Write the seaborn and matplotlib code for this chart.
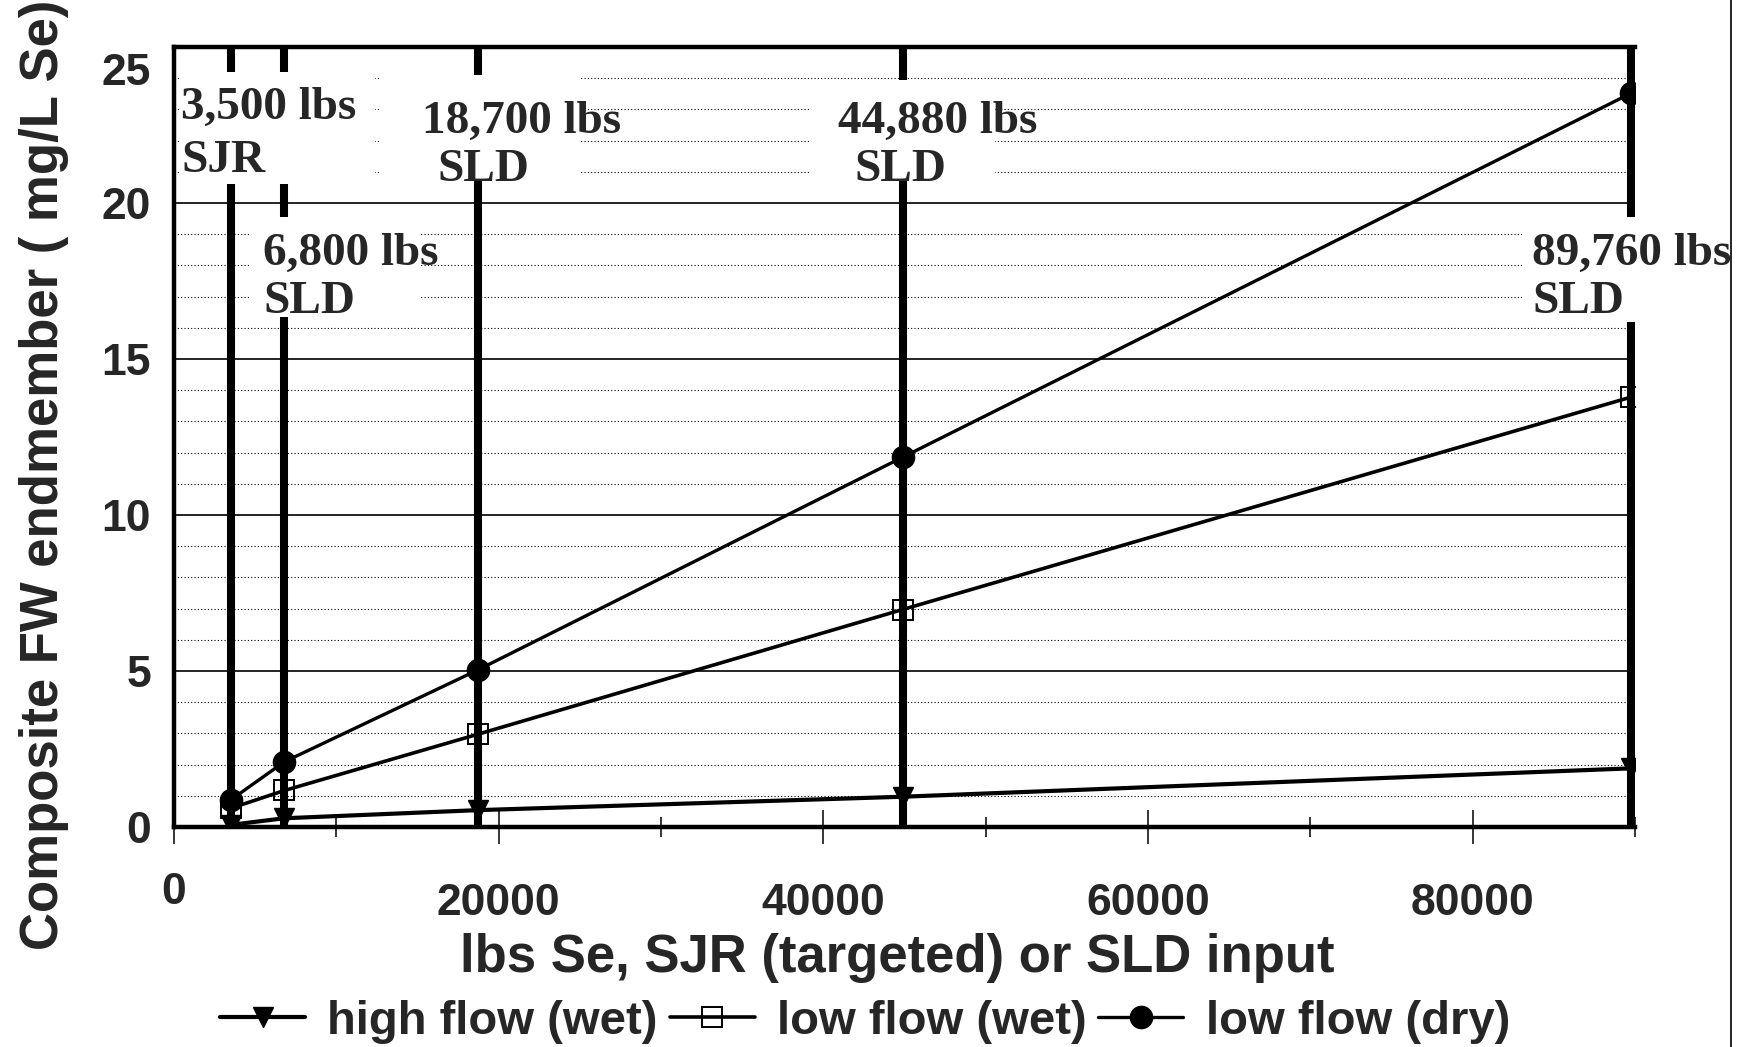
import numpy as np
import pandas as pd
import matplotlib
matplotlib.use("Agg")
import matplotlib.pyplot as plt
import seaborn as sns
from matplotlib.ticker import MultipleLocator, FixedLocator
from matplotlib.transforms import ScaledTranslation
from matplotlib.patches import Rectangle
from matplotlib.lines import Line2D

# ---------------- data ----------------
lbs_se = [3500, 6800, 18700, 44880, 89760]
high_flow_wet = [0.07, 0.28, 0.54, 0.97, 1.88]
low_flow_wet = [0.60, 1.17, 2.97, 6.97, 13.78]
low_flow_dry = [0.87, 2.09, 5.03, 11.85, 23.52]
series_names = ["high flow (wet)", "low flow (wet)", "low flow (dry)"]

load_lines = [3500, 6800, 18700, 44880, 89760]
load_label_top = ["3,500 lbs", "6,800 lbs", "18,700 lbs", "44,880 lbs", "89,760 lbs"]
load_label_bottom = ["SJR", "SLD", "SLD", "SLD", "SLD"]

x_ticks = [0, 20000, 40000, 60000, 80000]
x_tick_labels = ["0", "20000", "40000", "60000", "80000"]
y_ticks = [0, 5, 10, 15, 20, 25]
y_tick_labels = ["0", "5", "10", "15", "20", "25"]

x_label = "lbs Se, SJR (targeted) or SLD input"
y_label = "Composite FW endmember ( mg/L Se)"

# label placement (data units, baseline of each text line)
top_x = [431, 5483, 15280, 40909, 83667]
top_y = [22.71, 18.01, 22.24, 22.24, 18.01]
bot_x = [431, 5483, 16235, 41895, 83667]
bot_y = [21.0, 16.47, 20.71, 20.71, 16.47]
# white masks behind the labels (x0, x1, y0, y1)
mask_boxes = [(370, 12384, 20.62, 24.2),
              (4682, 15156, 16.35, 19.55),
              (12630, 25014, 20.71, 24.1),
              (39246, 50582, 20.71, 23.94),
              (83050, 91000, 16.19, 19.55)]

df = pd.DataFrame({
    "lbs": lbs_se * 3,
    "conc": high_flow_wet + low_flow_wet + low_flow_dry,
    "series": np.repeat(series_names, len(lbs_se)),
})

# ---------------- style ----------------
sns.set_theme(style="white")
plt.rcParams["font.family"] = ["Liberation Sans", "DejaVu Sans"]
plt.rcParams["font.weight"] = "bold"
plt.rcParams["axes.labelweight"] = "bold"

fig = plt.figure(figsize=(17.52, 10.47), dpi=100)
ax = fig.add_axes([174 / 1752, 1 - 827 / 1047, 1461 / 1752, 780 / 1047])

styles = {
    "high flow (wet)": dict(marker="v", ms=15, mfc="black", mew=1.0, lw=3.0),
    "low flow (wet)": dict(marker="s", ms=14, mfc="none", mew=1.4, lw=2.6),
    "low flow (dry)": dict(marker="o", ms=16, mfc="black", mew=1.0, lw=2.4),
}
for name in series_names:
    st = styles[name]
    sns.lineplot(data=df[df["series"] == name], x="lbs", y="conc", ax=ax,
                 color="black", marker=st["marker"], markersize=st["ms"],
                 markerfacecolor=st["mfc"], markeredgecolor="black",
                 markeredgewidth=st["mew"], linewidth=st["lw"],
                 label=name, legend=False, errorbar=None, zorder=4)

# thick vertical load lines
vl = ax.vlines(load_lines, 0, 25, colors="black", linewidth=5.8, zorder=1.5)
vl.set_capstyle("butt")

# masks + labels
for (x0, x1, y0, y1) in mask_boxes:
    ax.add_patch(Rectangle((x0, y0), x1 - x0, y1 - y0, facecolor="white",
                           edgecolor="none", zorder=2))
serif = ["Liberation Serif", "DejaVu Serif"]
for i in range(len(load_lines)):
    ax.text(top_x[i], top_y[i], load_label_top[i], fontsize=34, family=serif,
            weight="bold", ha="left", va="baseline", zorder=6, clip_on=False)
    ax.text(bot_x[i], bot_y[i], load_label_bottom[i], fontsize=34, family=serif,
            weight="bold", ha="left", va="baseline", zorder=6, clip_on=False)

# axes
ax.set_xlim(0, 90000)
ax.set_ylim(0, 25)
ax.set_xticks(x_ticks)
ax.set_xticklabels(x_tick_labels)
ax.set_yticks(y_ticks)
ax.set_yticklabels(y_tick_labels)
ax.xaxis.set_minor_locator(MultipleLocator(10000))
ax.yaxis.set_minor_locator(FixedLocator([v for v in range(1, 25) if v % 5 != 0]))
ax.set_xlabel("")
ax.set_ylabel("")

ax.tick_params(axis="x", which="major", direction="inout", length=24, width=1.1,
               pad=28, labelsize=32, color="black", bottom=True)
ax.tick_params(axis="x", which="minor", direction="inout", length=14, width=1.1,
               color="black", bottom=True)
ax.tick_params(axis="y", which="both", length=0, pad=16.5, labelsize=32)

ax.set_axisbelow(True)
ax.grid(axis="y", which="major", color="black", linewidth=1.2, linestyle="-")
ax.grid(axis="y", which="minor", color="black", linewidth=0.8, linestyle=(0, (1, 2)))
ax.grid(axis="x", which="both", visible=False)

for side in ["top", "left", "bottom"]:
    ax.spines[side].set_linewidth(3.2)
    ax.spines[side].set_color("black")
ax.spines["right"].set_visible(False)

# individual label offsets
xt = ax.xaxis.get_major_ticks()
xt[0].label1.set_transform(xt[0].label1.get_transform()
                           + ScaledTranslation(0, 0.11, fig.dpi_scale_trans))
yt = ax.yaxis.get_major_ticks()
yt[-1].label1.set_transform(yt[-1].label1.get_transform()
                            + ScaledTranslation(0, -0.22, fig.dpi_scale_trans))

# axis titles
fig.text(897 / 1752, 1 - 972 / 1047, x_label, fontsize=38, weight="bold",
         ha="center", va="baseline")
fig.text(58 / 1752, 1 - 475 / 1047, y_label, fontsize=38, weight="bold",
         rotation=90, rotation_mode="anchor", ha="center", va="baseline")

# legend
handles, labels = ax.get_legend_handles_labels()
ax.legend(handles, labels, loc="center", bbox_to_anchor=(865 / 1752, 1 - 1022 / 1047),
          bbox_transform=fig.transFigure, ncol=3, frameon=False, fontsize=34,
          handlelength=1.8, handletextpad=0.47, columnspacing=0.25,
          borderpad=0, borderaxespad=0)

# right border line of the figure
fig.add_artist(Line2D([1731 / 1752, 1731 / 1752], [0, 1], transform=fig.transFigure,
                      color="black", linewidth=1.2))

fig.savefig("out.png", dpi=100, facecolor="white")
